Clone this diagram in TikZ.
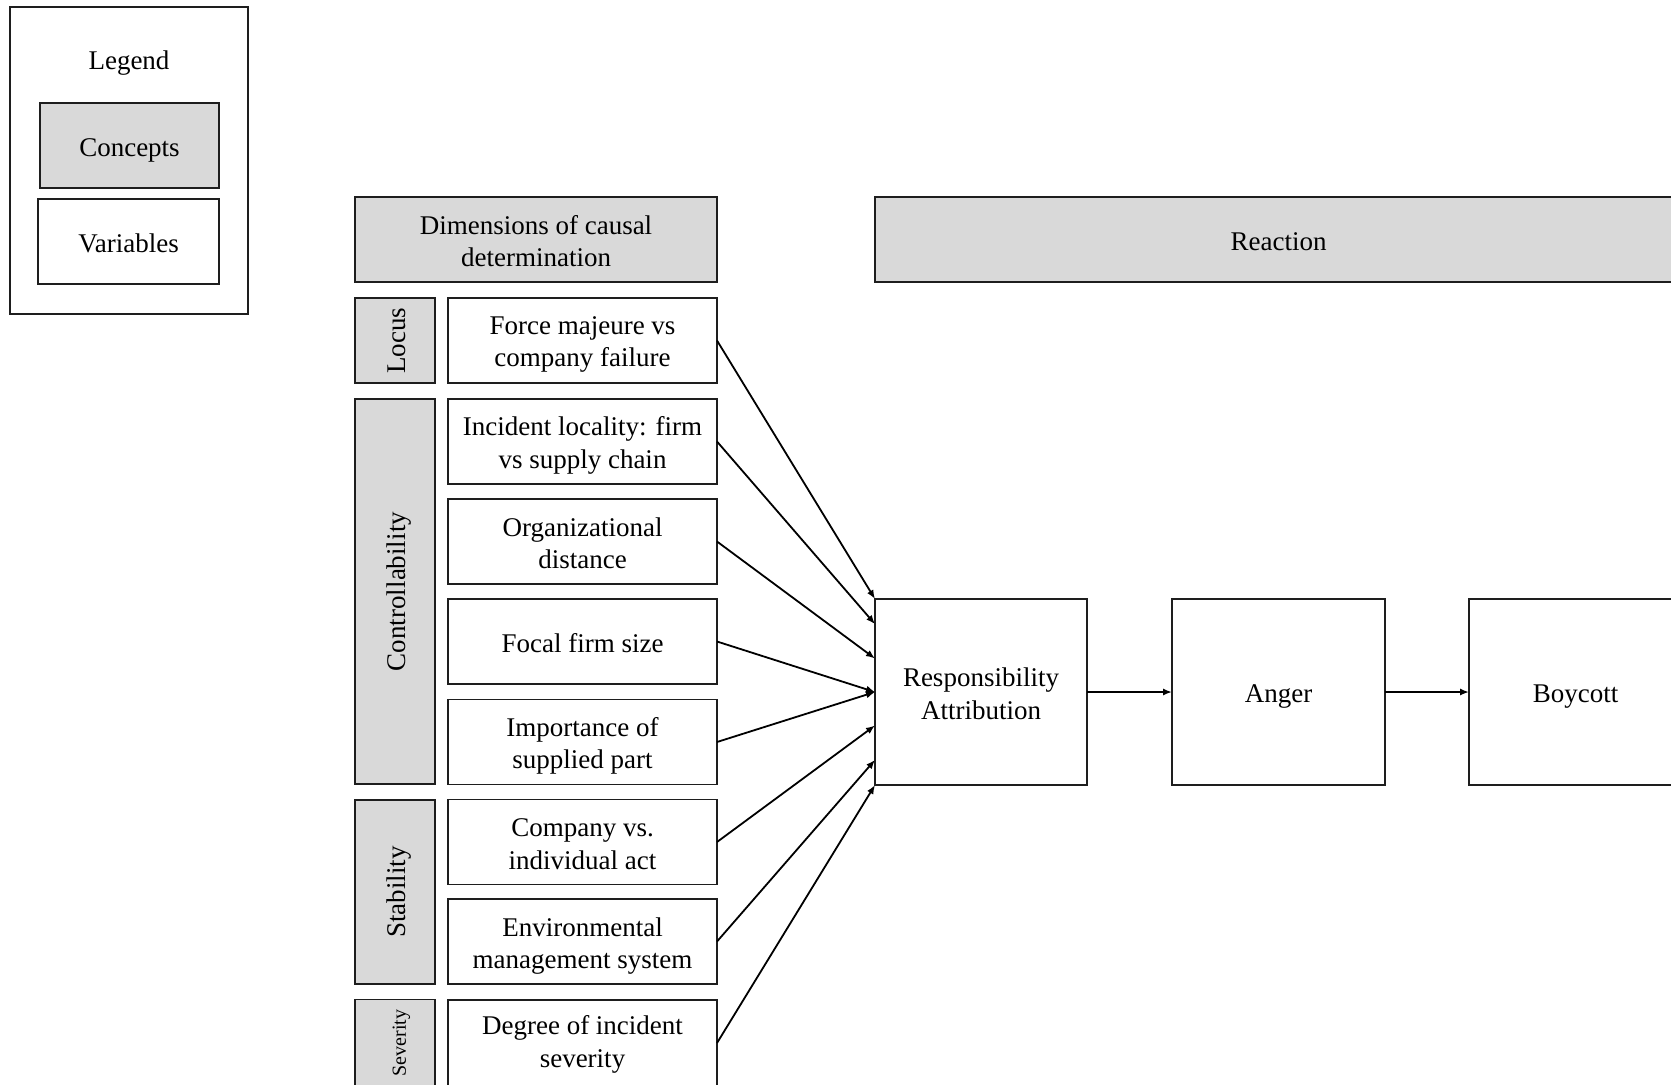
\documentclass[tikz,border=0pt]{standalone}
\usepackage{fontspec}
\setmainfont{Liberation Serif}
\usetikzlibrary{arrows.meta,calc}
\definecolor{cgray}{RGB}{217,217,217}
\definecolor{edge}{RGB}{30,30,30}
\newcommand\mainfs{\fontsize{13.5}{16.3}\selectfont}
\newcommand\smallfs{\fontsize{10}{12}\selectfont}
\tikzset{
  struts/.style={execute at begin node={\rule{0pt}{13.8pt}},
                 execute at end node={\rule[-3pt]{0pt}{3pt}}},
  nostruts/.style={execute at begin node={}, execute at end node={}},
  box/.style={draw=edge, line width=0.75pt, inner sep=0pt, outer sep=0pt,
              align=center, font=\mainfs, text=black, struts},
  concept/.style={box, fill=cgray},
  varbox/.style={box, fill=white, minimum width=134.5pt, minimum height=42.5pt},
  side/.style={concept, rotate=90, minimum height=40pt, nostruts},
  outcome/.style={box, fill=white, minimum height=93pt},
  tx/.style={font=\mainfs, align=center, inner sep=0pt, text=black},
  arr/.style={-{Latex[length=4.5pt,width=3.6pt]}, line width=0.9pt, draw=black}
}
\begin{document}
\begin{tikzpicture}[x=0.5pt, y=-0.5pt]
\clip (0,0) rectangle (1671,1084);
\fill[white] (0,0) rectangle (1671,1084);

% legend
\node[box, nostruts, minimum width=119pt, minimum height=153.5pt] (legend) at (129,160.5) {};
\node[font=\mainfs, inner sep=0pt, struts] (legendtitle) at (129,58.5) {Legend};
\node[concept, minimum width=89.5pt, minimum height=42.5pt] (lconcepts) at (129.5,145.5) {Concepts};
\node[box, minimum width=90.5pt, minimum height=42.5pt] (lvariables) at (128.5,241.5) {Variables};

% headers
\node[concept, minimum width=181pt, minimum height=42.5pt] (dims) at (536,239.5) {};
\node[tx, yshift=-0.9pt] (dimst) at (dims) {Dimensions of causal\\determination};
\node[concept, minimum width=403.5pt, minimum height=42.5pt] (reaction) at (1278.5,239.5) {Reaction};

% dimension labels
\node[side, minimum width=42.5pt] (locus) at (395,340.5) {Locus};
\node[side, minimum width=192.5pt] (control) at (395,591.5) {Controllability};
\node[side, minimum width=92pt] (stab) at (395,892) {Stability};
\node[side, minimum width=43.5pt, font=\smallfs] (sev) at (395,1043) {Severity};

% variables
\node[varbox] (v1) at (582.5,340.5) {};
\node[varbox] (v2) at (582.5,441.5) {};
\node[varbox] (v3) at (582.5,541.5) {};
\node[varbox] (v4) at (582.5,641.5) {Focal firm size};
\node[varbox] (v5) at (582.5,742) {};
\node[varbox] (v6) at (582.5,842) {};
\node[varbox] (v7) at (582.5,941.5) {};
\node[varbox, minimum height=43pt] (v8) at (582.5,1043) {};

\node[tx, yshift=-2pt]   (v1t) at (v1) {Force majeure vs\\company failure};
\node[tx, yshift=-1.8pt] (v2t) at (v2) {Incident locality: firm\\vs supply chain};
\node[tx, yshift=-0.9pt] (v3t) at (v3) {Organizational\\distance};
\node[tx, yshift=-2pt]   (v5t) at (v5) {Importance of\\supplied part};
\node[tx, yshift=-1pt]   (v6t) at (v6) {Company vs.\\individual act};
\node[tx, yshift=-2.2pt] (v7t) at (v7) {Environmental\\management system};
\node[tx, yshift=-0.8pt] (v8t) at (v8) {Degree of incident\\severity};

% outcome chain
\node[outcome, minimum width=106pt] (resp) at (981,692) {};
\node[tx, yshift=-0.9pt] (respt) at (resp) {Responsibility\\Attribution};
\node[outcome, minimum width=106.5pt] (anger) at (1278.5,692) {Anger};
\node[outcome, minimum width=106.5pt] (boy) at (1575.5,692) {Boycott};

% arrows into responsibility attribution
\foreach \v/\f in {v1/0, v2/0.135, v3/0.32, v4/0.5, v5/0.5, v6/0.68, v7/0.865, v8/1}
  \draw[arr] (\v.east) -- ($(resp.north west)!\f!(resp.south west)$);

\draw[arr] (resp.east) -- (anger.west);
\draw[arr] (anger.east) -- (boy.west);
\end{tikzpicture}
\end{document}
